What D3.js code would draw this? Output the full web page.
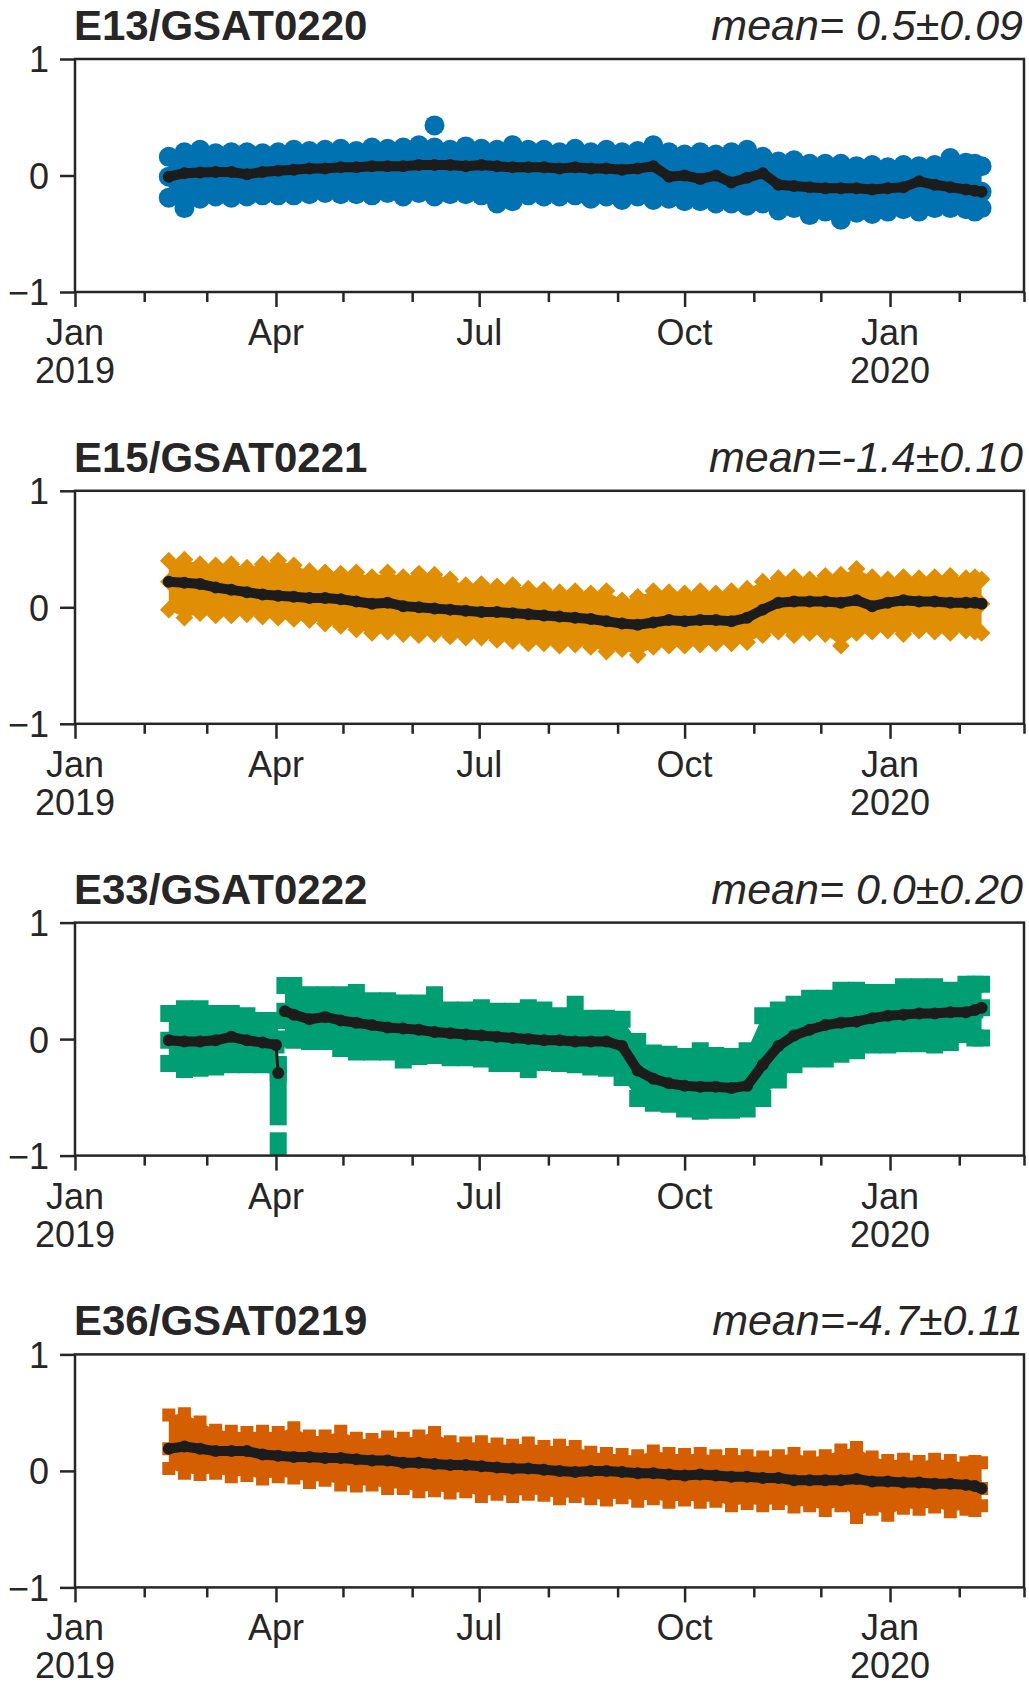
<!DOCTYPE html>
<html><head><meta charset="utf-8">
<script src="https://cdn.jsdelivr.net/npm/d3@7"></script>
<style>body{margin:0;background:#fff}svg{display:block}</style>
</head><body>
<script>
// ---------- DATA ----------
const xDomain = ["2019-01-01", "2020-03-01"];
const yTicks = [-1, 0, 1];
const panelTitles = ["E13/GSAT0220", "E15/GSAT0221", "E33/GSAT0222", "E36/GSAT0219"];
const meanLabels = ["mean= 0.5\u00B10.09", "mean=-1.4\u00B10.10", "mean= 0.0\u00B10.20", "mean=-4.7\u00B10.11"];

const weeks = ["2019-02-12","2019-02-19","2019-02-26","2019-03-05","2019-03-12","2019-03-19","2019-03-26",
  "2019-04-02","2019-04-09","2019-04-16","2019-04-23","2019-04-30","2019-05-07","2019-05-14","2019-05-21",
  "2019-05-28","2019-06-04","2019-06-11","2019-06-18","2019-06-25","2019-07-02","2019-07-09","2019-07-16",
  "2019-07-23","2019-07-30","2019-08-06","2019-08-13","2019-08-20","2019-08-27","2019-09-03","2019-09-10",
  "2019-09-17","2019-09-24","2019-10-01","2019-10-08","2019-10-15","2019-10-22","2019-10-29","2019-11-05",
  "2019-11-12","2019-11-19","2019-11-26","2019-12-03","2019-12-10","2019-12-17","2019-12-24","2019-12-31",
  "2020-01-07","2020-01-14","2020-01-21","2020-01-28","2020-02-04","2020-02-08","2020-02-11"];

// E13 (blue circles)
const e13Mean = [-0.01,0.02,0.025,0.03,0.03,0.01,0.03,0.04,0.05,0.06,0.06,0.07,0.07,0.08,0.08,0.08,0.09,0.09,
  0.09,0.08,0.09,0.08,0.07,0.07,0.07,0.06,0.07,0.06,0.06,0.05,0.06,0.08,-0.01,0.0,-0.03,0.0,-0.06,-0.02,0.02,
  -0.08,-0.09,-0.10,-0.11,-0.11,-0.11,-0.12,-0.11,-0.10,-0.05,-0.08,-0.10,-0.12,-0.13,-0.14];
const e13Upper = [0.16,0.20,0.22,0.19,0.20,0.20,0.19,0.20,0.22,0.21,0.22,0.23,0.21,0.24,0.23,0.24,0.26,0.24,
  0.22,0.25,0.23,0.22,0.26,0.22,0.22,0.20,0.23,0.20,0.22,0.20,0.21,0.26,0.20,0.18,0.20,0.18,0.20,0.22,0.16,
  0.12,0.13,0.10,0.10,0.10,0.08,0.09,0.07,0.09,0.08,0.09,0.15,0.11,0.10,0.08];
const e13Lower = [-0.19,-0.28,-0.20,-0.18,-0.19,-0.18,-0.17,-0.17,-0.17,-0.16,-0.15,-0.16,-0.16,-0.17,-0.15,
  -0.18,-0.15,-0.18,-0.16,-0.16,-0.17,-0.24,-0.22,-0.17,-0.18,-0.18,-0.17,-0.20,-0.18,-0.21,-0.18,-0.21,-0.20,
  -0.22,-0.22,-0.24,-0.24,-0.26,-0.24,-0.30,-0.28,-0.34,-0.31,-0.38,-0.32,-0.33,-0.31,-0.29,-0.31,-0.28,-0.28,
  -0.29,-0.31,-0.28];
const e13Outliers = [["2019-06-11", 0.43]];

// E15 (orange)
const e15Mean = [0.22,0.21,0.20,0.17,0.15,0.13,0.11,0.10,0.09,0.08,0.08,0.07,0.05,0.03,0.04,0.01,0.0,-0.01,
  -0.02,-0.03,-0.04,-0.04,-0.05,-0.06,-0.07,-0.08,-0.09,-0.10,-0.12,-0.14,-0.15,-0.13,-0.11,-0.12,-0.11,-0.11,
  -0.12,-0.09,-0.02,0.04,0.05,0.05,0.05,0.04,0.06,0.01,0.04,0.06,0.05,0.05,0.04,0.04,0.04,0.03];
const e15Upper = [0.40,0.41,0.37,0.36,0.37,0.34,0.37,0.40,0.36,0.31,0.30,0.29,0.30,0.26,0.30,0.26,0.29,0.28,
  0.24,0.19,0.20,0.18,0.19,0.16,0.15,0.13,0.14,0.12,0.14,0.06,0.09,0.14,0.13,0.12,0.14,0.12,0.14,0.16,0.22,
  0.25,0.26,0.24,0.27,0.28,0.33,0.26,0.24,0.26,0.25,0.26,0.27,0.25,0.26,0.24];
const e15Lower = [-0.02,-0.09,-0.05,-0.07,-0.07,-0.06,-0.08,-0.09,-0.10,-0.11,-0.14,-0.16,-0.19,-0.22,-0.21,
  -0.23,-0.24,-0.23,-0.25,-0.26,-0.26,-0.28,-0.29,-0.31,-0.31,-0.33,-0.32,-0.34,-0.38,-0.36,-0.41,-0.34,-0.33,
  -0.33,-0.32,-0.31,-0.31,-0.30,-0.24,-0.21,-0.24,-0.22,-0.23,-0.33,-0.22,-0.21,-0.20,-0.23,-0.20,-0.21,-0.22,
  -0.20,-0.21,-0.22];

// E33 (green squares) - own dates, with a break after the early-April jump
const e33Dates = ["2019-02-12","2019-02-19","2019-02-26","2019-03-05","2019-03-12","2019-03-19","2019-03-26",
  "2019-04-01","2019-04-02","2019-04-03","2019-04-05",
  "2019-04-09","2019-04-16","2019-04-23","2019-04-30","2019-05-07","2019-05-14","2019-05-21",
  "2019-05-28","2019-06-04","2019-06-11","2019-06-18","2019-06-25","2019-07-02","2019-07-09","2019-07-16",
  "2019-07-23","2019-07-30","2019-08-06","2019-08-13","2019-08-20","2019-08-27","2019-09-03","2019-09-10",
  "2019-09-17","2019-09-24","2019-10-01","2019-10-08","2019-10-15","2019-10-22","2019-10-29","2019-11-05",
  "2019-11-12","2019-11-19","2019-11-26","2019-12-03","2019-12-10","2019-12-17","2019-12-24","2019-12-31",
  "2020-01-07","2020-01-14","2020-01-21","2020-01-28","2020-02-04","2020-02-08","2020-02-11"];
const e33Mean = [-0.01,-0.02,-0.02,-0.01,0.02,-0.01,-0.03,-0.05,-0.29,null,0.24,
  0.21,0.17,0.19,0.16,0.14,0.12,0.10,0.09,0.08,0.06,0.05,0.04,0.03,0.02,0.01,0.0,-0.01,-0.01,-0.02,-0.02,
  -0.02,-0.06,-0.27,-0.34,-0.38,-0.40,-0.41,-0.41,-0.42,-0.40,-0.22,-0.06,0.03,0.08,0.12,0.14,0.15,0.18,
  0.20,0.21,0.22,0.22,0.23,0.23,0.25,0.27];
const e33Upper = [0.22,0.26,0.26,0.22,0.22,0.20,0.16,0.16,0.16,null,0.46,
  0.46,0.38,0.38,0.38,0.40,0.33,0.33,0.31,0.31,0.38,0.25,0.25,0.27,0.24,0.24,0.27,0.25,0.20,0.30,0.18,
  0.18,0.17,-0.02,-0.12,-0.13,-0.15,-0.10,-0.14,-0.15,-0.10,0.20,0.25,0.30,0.35,0.35,0.42,0.42,0.40,
  0.40,0.45,0.45,0.45,0.42,0.47,0.47,0.47];
const e33Lower = [-0.21,-0.26,-0.25,-0.24,-0.22,-0.22,-0.22,-0.22,-0.22,null,0.0,
  -0.01,-0.02,-0.02,-0.08,-0.11,-0.11,-0.11,-0.18,-0.15,-0.14,-0.16,-0.16,-0.17,-0.21,-0.21,-0.26,-0.20,
  -0.21,-0.22,-0.24,-0.25,-0.33,-0.51,-0.55,-0.56,-0.60,-0.62,-0.61,-0.61,-0.60,-0.51,-0.35,-0.22,-0.17,
  -0.17,-0.13,-0.10,-0.05,-0.05,-0.04,-0.04,-0.05,-0.03,0.04,0.01,0.01];
const e33SpikeDate = "2019-04-02";
const e33SpikeRanges = [[-0.22, -0.667], [-0.873, -1.1]];

// E36 (vermillion)
const e36Mean = [0.19,0.21,0.19,0.17,0.17,0.17,0.14,0.13,0.12,0.12,0.11,0.11,0.10,0.09,0.09,0.07,0.07,0.06,
  0.05,0.05,0.04,0.03,0.02,0.02,0.01,0.0,-0.01,0.0,0.0,-0.01,-0.02,-0.02,-0.03,-0.04,-0.03,-0.04,-0.05,-0.05,
  -0.06,-0.06,-0.08,-0.08,-0.08,-0.08,-0.07,-0.09,-0.09,-0.10,-0.10,-0.11,-0.11,-0.12,-0.13,-0.15];
const e36Upper = [0.48,0.49,0.42,0.35,0.34,0.33,0.34,0.33,0.37,0.30,0.30,0.34,0.28,0.27,0.29,0.28,0.30,0.33,
  0.25,0.24,0.25,0.23,0.22,0.24,0.21,0.22,0.21,0.16,0.15,0.14,0.13,0.17,0.15,0.14,0.15,0.13,0.14,0.13,0.12,
  0.13,0.15,0.12,0.13,0.18,0.20,0.12,0.09,0.10,0.08,0.10,0.09,0.07,0.08,0.07];
const e36Lower = [0.02,-0.02,-0.03,-0.02,-0.05,-0.04,-0.07,-0.05,-0.06,-0.10,-0.08,-0.12,-0.13,-0.12,-0.15,
  -0.15,-0.18,-0.17,-0.19,-0.18,-0.22,-0.20,-0.22,-0.20,-0.21,-0.24,-0.22,-0.24,-0.25,-0.23,-0.26,-0.24,-0.27,
  -0.25,-0.27,-0.26,-0.30,-0.28,-0.30,-0.28,-0.31,-0.30,-0.34,-0.30,-0.40,-0.33,-0.38,-0.32,-0.33,-0.31,-0.35,
  -0.33,-0.34,-0.30];

// ---------- DRAWING ----------
const W = 1029, H = 1684;
const parse = d3.timeParse("%Y-%m-%d");
const svg = d3.select("body").append("svg").attr("width", W).attr("height", H)
  .style("font-family", "'Liberation Sans', Arial, Helvetica, sans-serif");

const left = 75, right = 1024, plotH = 233, firstTop = 59, step = 431.8;
const x = d3.scaleTime().domain(xDomain.map(parse)).range([left, right]);
const axisColor = "#262626", lineColor = "#1c1c1c";

const panels = [
  {dates: weeks, mean: e13Mean, upper: e13Upper, lower: e13Lower, color: "#0072B2", mark: "circle", outliers: e13Outliers},
  {dates: weeks, mean: e15Mean, upper: e15Upper, lower: e15Lower, color: "#E08E04", mark: "diamond", outliers: []},
  {dates: e33Dates, mean: e33Mean, upper: e33Upper, lower: e33Lower, color: "#009E73", mark: "bigsquare", outliers: [],
   spike: {date: e33SpikeDate, ranges: e33SpikeRanges}},
  {dates: weeks, mean: e36Mean, upper: e36Upper, lower: e36Lower, color: "#D55E00", mark: "square", outliers: []}
];

const symbols = {
  circle: {type: d3.symbolCircle, size: Math.PI * 10 * 10, rot: 0},
  diamond: {type: d3.symbolSquare, size: 12.5 * 12.5, rot: 45},
  bigsquare: {type: d3.symbolSquare, size: 17 * 17, rot: 0},
  square: {type: d3.symbolSquare, size: 13 * 13, rot: 0}
};

panels.forEach((p, i) => {
  const top = firstTop + i * step, bottom = top + plotH;
  const y = d3.scaleLinear().domain([-1, 1]).range([bottom, top]);
  const g = svg.append("g");
  const clipId = "clip" + i;
  svg.append("clipPath").attr("id", clipId).append("rect")
    .attr("x", left).attr("y", top).attr("width", right - left).attr("height", plotH);
  const pg = g.append("g").attr("clip-path", `url(#${clipId})`);

  const rows = p.dates.map((d, j) => ({date: parse(d), m: p.mean[j], u: p.upper[j], l: p.lower[j]}));
  const defined = rows.filter(r => r.u != null);

  // band fill
  pg.append("path").datum(rows)
    .attr("d", d3.area().defined(r => r.u != null).x(r => x(r.date)).y0(r => y(r.l)).y1(r => y(r.u)))
    .attr("fill", p.color);

  // spike (E33)
  if (p.spike) {
    const sx = x(parse(p.spike.date));
    p.spike.ranges.forEach(rg => {
      pg.append("rect").attr("x", sx - 8.5).attr("width", 17)
        .attr("y", y(rg[0]) - 8.5).attr("height", y(rg[1]) - y(rg[0]) + 17)
        .attr("fill", p.color);
    });
  }

  // markers on the band edges and centre
  const sym = symbols[p.mark];
  const symPath = d3.symbol().type(sym.type).size(sym.size)();
  const pts = [];
  defined.forEach(r => { pts.push([r.date, r.u]); pts.push([r.date, r.l]); if (r.m != null) pts.push([r.date, r.m]); });
  p.outliers.forEach(o => pts.push([parse(o[0]), o[1]]));
  pg.append("g").selectAll("path").data(pts).join("path")
    .attr("d", symPath)
    .attr("transform", d => `translate(${x(d[0])},${y(d[1])}) rotate(${sym.rot})`)
    .attr("fill", p.color);

  // black mean line
  const lg = pg.append("g");
  for (let j = 0; j < rows.length - 1; j++) {
    const a = rows[j], b = rows[j + 1];
    if (a.m == null || b.m == null) continue;
    const dx = x(b.date) - x(a.date);
    lg.append("line").attr("x1", x(a.date)).attr("y1", y(a.m)).attr("x2", x(b.date)).attr("y2", y(b.m))
      .attr("stroke", lineColor).attr("stroke-width", dx < 5 ? 3 : 10).attr("stroke-linecap", "round");
  }
  lg.selectAll("circle").data(rows.filter(r => r.m != null)).join("circle")
    .attr("cx", r => x(r.date)).attr("cy", r => y(r.m)).attr("r", 6).attr("fill", lineColor);

  // axes
  const months = d3.timeMonth.range(parse(xDomain[0]), d3.timeDay.offset(parse(xDomain[1]), 1));
  const xa = g.append("g").attr("transform", `translate(0,${bottom})`)
    .call(d3.axisBottom(x).tickValues(months).tickFormat("").tickSizeOuter(0));
  xa.select(".domain").remove();
  xa.selectAll(".tick line").attr("stroke", axisColor).attr("stroke-width", 2.5)
    .attr("y2", d => d.getMonth() % 3 === 0 ? 15 : 10);

  const majors = months.filter(d => d.getMonth() % 3 === 0);
  const fmtM = d3.timeFormat("%b"), fmtY = d3.timeFormat("%Y");
  const lab = g.append("g").attr("font-size", 36).attr("fill", "#262626").attr("text-anchor", "middle");
  majors.forEach(d => {
    const t = lab.append("text").attr("x", x(d)).attr("y", bottom + 53);
    t.append("tspan").attr("x", x(d)).text(fmtM(d));
    if (d.getMonth() === 0) t.append("tspan").attr("x", x(d)).attr("y", bottom + 91).text(fmtY(d));
  });

  const ya = g.append("g").attr("transform", `translate(${left},0)`)
    .call(d3.axisLeft(y).tickValues(yTicks).tickSize(15).tickPadding(11)
      .tickFormat(d => d < 0 ? "\u2212" + Math.abs(d) : String(d)));
  ya.select(".domain").remove();
  ya.selectAll(".tick line").attr("stroke", axisColor).attr("stroke-width", 2.5);
  ya.selectAll(".tick text").attr("font-size", 36).attr("fill", "#262626")
    .attr("font-family", "'Liberation Sans', Arial, sans-serif").attr("dy", "0.36em");

  g.append("rect").attr("x", left).attr("y", top).attr("width", right - left).attr("height", plotH)
    .attr("fill", "none").attr("stroke", axisColor).attr("stroke-width", 2.5);

  g.append("text").attr("x", left - 1).attr("y", top - 19).attr("font-size", 42).attr("font-weight", "bold")
    .attr("fill", "#262626").text(panelTitles[i]);
  g.append("text").attr("x", right - 1).attr("y", top - 19).attr("font-size", 43).attr("font-style", "italic")
    .attr("text-anchor", "end").attr("fill", "#262626").text(meanLabels[i]);
});
</script>
</body></html>
